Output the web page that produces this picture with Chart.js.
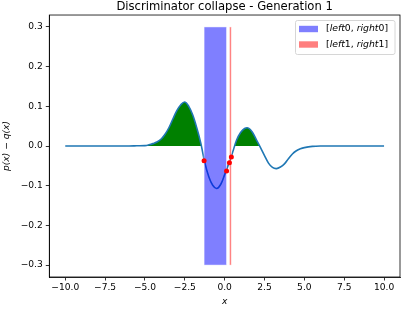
<!DOCTYPE html>
<html>
<head>
<meta charset="utf-8">
<script src="https://cdn.jsdelivr.net/npm/chart.js@4.4.1/dist/chart.umd.min.js"></script>
<style>
  html, body { margin: 0; padding: 0; background: #fff; }
  #chart { display: block; }
</style>
</head>
<body>
<canvas id="chart" width="419" height="315"></canvas>
<script>
// curve p(x) - q(x)
const curveX = [-10, -8, -6, -5.5, -5, -4.75, -4.5, -4.25, -4, -3.75, -3.5, -3.25, -3, -2.75, -2.5,
    -2.25, -2, -1.75, -1.5, -1.25, -1, -0.75, -0.5, -0.25, 0, 0.25, 0.5, 0.75, 1, 1.25, 1.5,
    1.75, 2, 2.25, 2.5, 2.75, 3, 3.25, 3.5, 3.75, 4, 4.25, 4.5, 4.75, 5, 5.5, 6, 7, 10];
const curveY = [0, 0, 0, 0.0005, 0.001, 0.003, 0.006, 0.01, 0.017, 0.029, 0.046, 0.068, 0.089, 0.104, 0.111,
    0.1, 0.078, 0.046, 0.008, -0.041, -0.077, -0.099, -0.107, -0.097, -0.072, -0.045, -0.016, 0.015, 0.034, 0.044, 0.045,
    0.034, 0.015, -0.004, -0.024, -0.043, -0.054, -0.057, -0.053, -0.045, -0.032, -0.02, -0.012, -0.007, -0.004, -0.001, 0, 0, 0];

// interval edges and the curve values there (red dots)
const dotX = [-1.29, 0.12, 0.3, 0.42];
const dotY = [-0.037, -0.063, -0.042, -0.028];

// vertical spans: [left, right, bottom, top]
const spanBlue = [-1.29, 0.12, -0.3, 0.3];
const spanRed = [0.3, 0.42, -0.3, 0.3];

const xTicks = [-10, -7.5, -5, -2.5, 0, 2.5, 5, 7.5, 10];
const yTicks = [-0.3, -0.2, -0.1, 0, 0.1, 0.2, 0.3];

Chart.defaults.font.family = "'DejaVu Sans', sans-serif";
Chart.defaults.color = '#000';

function fmt(v) {
    return v.toFixed(1).replace('-', '\u2212');
}

// draw the two spans right after the curve, so the dots stay on top
const spansPlugin = {
    id: 'spans',
    afterDatasetDraw(chart, args) {
        if (args.index !== 1) return;
        const ctx = chart.ctx;
        const xs = chart.scales.x, ys = chart.scales.y;
        const spans = [[spanBlue, 'rgba(0,0,255,0.5)'], [spanRed, 'rgba(255,0,0,0.5)']];
        ctx.save();
        spans.forEach(([s, color]) => {
            const x0 = xs.getPixelForValue(s[0]);
            const x1 = xs.getPixelForValue(s[1]);
            const y0 = ys.getPixelForValue(s[3]);
            const y1 = ys.getPixelForValue(s[2]);
            ctx.fillStyle = color;
            ctx.fillRect(x0, y0, x1 - x0, y1 - y0);
            ctx.strokeStyle = 'rgba(255,255,255,0.6)';
            ctx.lineWidth = 0.8;
            ctx.strokeRect(x0, y0, x1 - x0, y1 - y0);
        });
        ctx.restore();
    }
};

// top/right frame lines and the legend
const framePlugin = {
    id: 'frame',
    afterDraw(chart) {
        const ctx = chart.ctx;
        const a = chart.chartArea;
        ctx.save();
        ctx.strokeStyle = '#000';
        ctx.lineWidth = 0.8;
        ctx.strokeRect(a.left, a.top, a.right - a.left, a.bottom - a.top);

        // legend box
        const bx = 295.5, by = 20.5, bw = 99.5, bh = 34;
        ctx.beginPath();
        ctx.roundRect(bx, by, bw, bh, 2);
        ctx.fillStyle = 'rgba(255,255,255,0.8)';
        ctx.fill();
        ctx.strokeStyle = '#d6d6d6';
        ctx.lineWidth = 1;
        ctx.stroke();

        const rows = [['rgba(0,0,255,0.5)', '0'], ['rgba(255,0,0,0.5)', '1']];
        rows.forEach(([color, n], i) => {
            const cy = 29 + i * 15.5;
            ctx.fillStyle = color;
            ctx.fillRect(299, cy - 3.2, 19, 6.4);
            const parts = [['[', false], ['left', true], [n + ', ', false], ['right', true], [n + ']', false]];
            let x = 326;
            ctx.fillStyle = '#000';
            ctx.textBaseline = 'middle';
            parts.forEach(([t, it]) => {
                ctx.font = (it ? 'italic ' : '') + "9.3px 'DejaVu Sans'";
                ctx.fillText(t, x, cy);
                x += ctx.measureText(t).width;
            });
        });
        ctx.restore();
    }
};

new Chart(document.getElementById('chart'), {
    type: 'scatter',
    data: {
        datasets: [{
            type: 'scatter',
            data: dotX.map((x, i) => ({ x: x, y: dotY[i] })),
            pointRadius: 2.5,
            pointBackgroundColor: '#ff0000',
            pointBorderWidth: 0,
            showLine: false
        }, {
            type: 'line',
            data: curveX.map((x, i) => ({ x: x, y: curveY[i] })),
            borderColor: '#1f77b4',
            borderWidth: 1.6,
            pointRadius: 0,
            tension: 0.35,
            fill: {
                target: { value: 0 },
                above: '#008000',
                below: 'rgba(0,0,0,0)'
            }
        }]
    },
    options: {
        responsive: false,
        animation: false,
        devicePixelRatio: 1,
        layout: { padding: { left: 0, right: 19, top: 0, bottom: 0 } },
        plugins: {
            legend: { display: false },
            tooltip: { enabled: false },
            title: {
                display: true,
                text: 'Discriminator collapse - Generation 1',
                fullSize: false,
                color: '#000',
                font: { size: 11.6, weight: 'normal' },
                padding: { top: 0.5, bottom: 0.6 }
            }
        },
        scales: {
            x: {
                type: 'linear',
                min: -11,
                max: 11,
                afterBuildTicks: s => { s.ticks = xTicks.map(v => ({ value: v })); },
                afterFit: s => { s.height = 38; },
                ticks: { callback: v => fmt(v), font: { size: 9.1 }, padding: 2, maxRotation: 0, autoSkip: false },
                grid: { drawOnChartArea: false, drawTicks: true, tickLength: 3.5, tickColor: '#000', tickWidth: 0.8 },
                border: { display: true, color: '#000', width: 0.8 },
                title: { display: true, text: 'x', font: { size: 9.1, style: 'italic' }, padding: { top: 0, bottom: 7.5 } }
            },
            y: {
                type: 'linear',
                min: -0.33,
                max: 0.33,
                afterBuildTicks: s => { s.ticks = yTicks.map(v => ({ value: v })); },
                afterFit: s => { s.width = 49.3; },
                ticks: { callback: v => fmt(v), font: { size: 9.1 }, padding: 3, autoSkip: false },
                grid: { drawOnChartArea: false, drawTicks: true, tickLength: 3.5, tickColor: '#000', tickWidth: 0.8 },
                border: { display: true, color: '#000', width: 0.8 },
                title: { display: true, text: 'p(x) \u2212 q(x)', font: { size: 9.1, style: 'italic' }, padding: { top: 1.5, bottom: 0 } }
            }
        }
    },
    plugins: [spansPlugin, framePlugin]
});
</script>
</body>
</html>
